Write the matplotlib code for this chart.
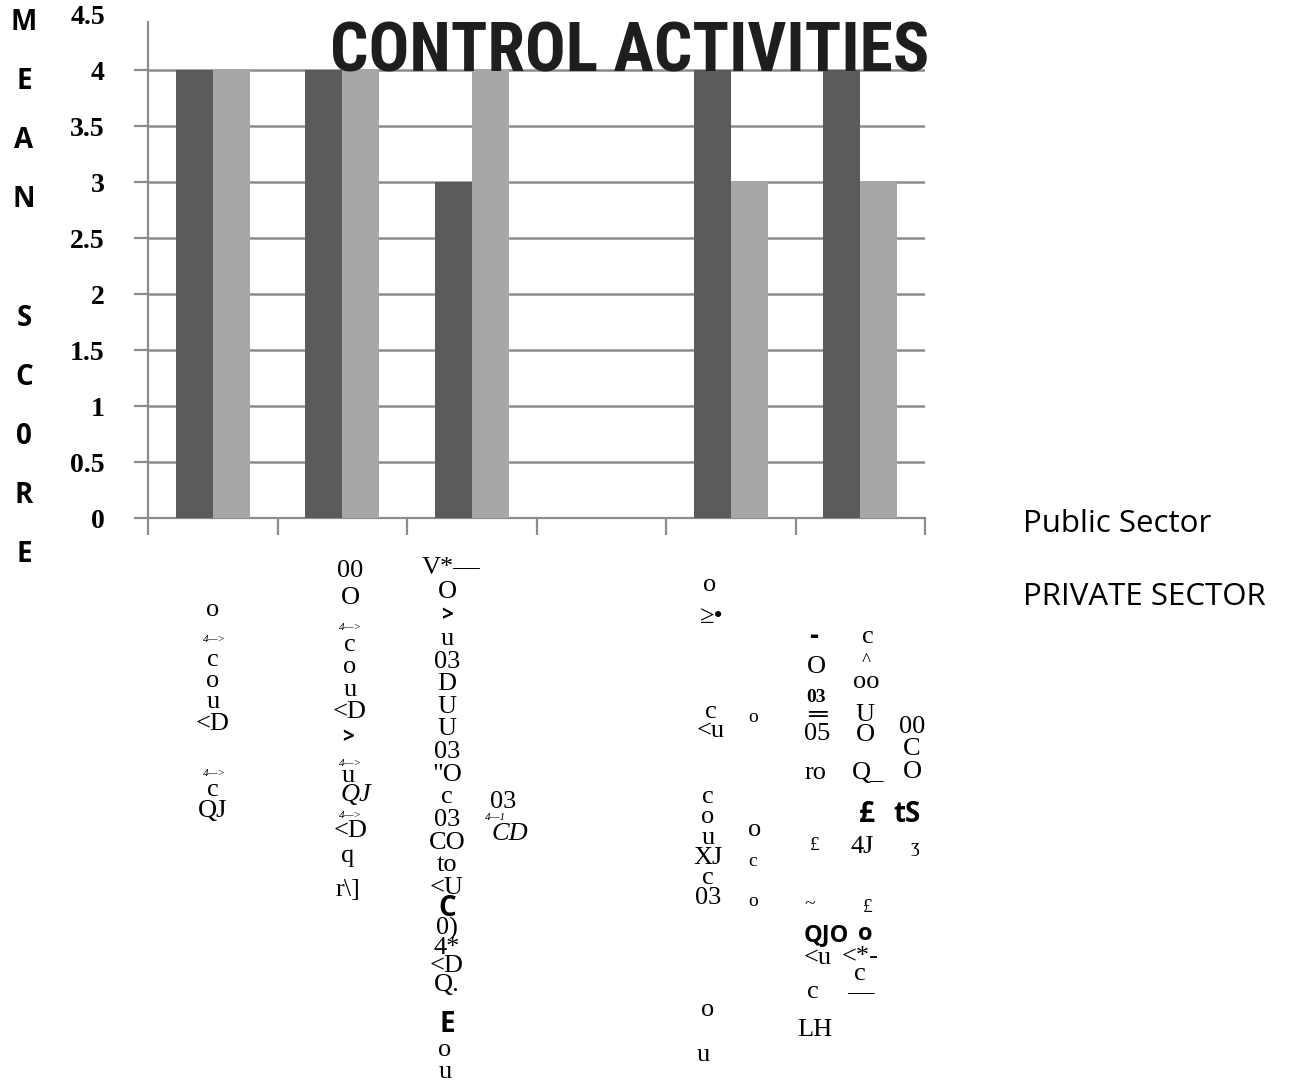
import numpy as np
import matplotlib
matplotlib.use("Agg")
import matplotlib.pyplot as plt
from matplotlib import font_manager as fm

W, H, DPI = 1298, 1089, 100

# ---- data -------------------------------------------------------------
public_sector = [4, 4, 3, 0, 4, 4]
private_sector = [4, 4, 4, 0, 3, 3]
y_ticks = [0, 0.5, 1, 1.5, 2, 2.5, 3, 3.5, 4, 4.5]
y_tick_labels = ["0", "0.5", "1", "1.5", "2", "2.5", "3", "3.5", "4", "4.5"]
series_names = ["Public Sector", "PRIVATE SECTOR"]
title_text = "CONTROL ACTIVITIES"
y_label_letters = ["M", "E", "A", "N", "", "S", "C", "0", "R", "E"]

# category captions under the axis, as they came out of the scanned page
# single pieces: (x px, centre y px, text, style)
caption_pieces = [
    (213, 610, "o", "S"), (214, 640, "4—>", "s"), (214, 773, "4—>", "s"),
    (350, 628, "4—>", "s"), (348, 738, ">", "b2"), (350, 763, "4—>", "s"),
    (348, 776, "u", "S"), (356, 795, "QJ", "I"), (350, 815, "4—>", "s"),
    (351, 831, "<D", "S"),
    (451, 568, "V*—", "S"), (447, 592, "O", "S"), (447, 616, ">", "b2"),
    (447, 909, "C", "B"), (447, 1024, "E", "B"),
    (503, 802, "03", "S"), (496, 818, "4—1", "s"), (510, 834, "CD", "I"),
    (710, 585, "o", "S"), (712, 617, "≥•", "S"),
    (708, 1010, "o", "S"), (703, 1055, "u", "S"),
    (753, 717, "o", "m"), (755, 830, "o", "S"), (753, 862, "c", "m"),
    (753, 902, "o", "m"),
    (814, 637, "-", "B"), (816, 667, "O", "S"), (816, 698, "03", "b"),
    (817, 716, "═", "S"), (817, 734, "05", "S"), (816, 773, "ro", "S"),
    (815, 845, "£", "m"), (810, 905, "~", "m"), (826, 935, "QJO", "B2"),
    (818, 958, "<u", "S"), (813, 992, "c", "S"), (815, 1030, "LH", "S"),
    (868, 637, "c", "S"), (866, 661, "^", "m"), (866, 682, "oo", "S"),
    (865, 715, "U", "S"), (865, 735, "O", "S"), (868, 773, "Q_", "S"),
    (867, 815, "£", "B"), (862, 847, "4J", "S"), (868, 908, "£", "m"),
    (865, 934, "o", "B2"), (860, 956, "<*-", "S"), (860, 974, "c", "S"),
    (860, 992, "—", "S"),
    (912, 727, "00", "S"), (912, 749, "C", "S"), (912, 772, "O", "S"),
    (907, 815, "tS", "B"), (915, 848, "ʒ", "m"),
]
# stacked runs: (x px, first baseline px, line pitch px, lines)
caption_stacks = [
    (213, 666, 21.0, ["c", "o", "u", "<D"]),
    (213, 796, 21.0, ["c", "QJ"]),
    (350, 577, 29.0, ["00", "O"]),
    (350, 651, 22.5, ["c", "o", "u", "<D"]),
    (348, 862, 37.0, ["q", "r\\]"]),
    (447, 645, 22.8, ["u", "03", "D", "U", "U", "03", "\"O", "c", "03",
                      "CO", "to", "<U"]),
    (447, 934, 17.7, ["0)", "4*", "<D", "Q."]),
    (445, 1056, 22.0, ["o", "u"]),
    (711, 718, 18.0, ["c", "<u"]),
    (708, 803, 19.8, ["c", "o", "u", "XJ", "c", "03"]),
]

# ---- styling ----------------------------------------------------------
dark_bar = "#5b5b5b"
light_bar = "#a7a7a7"
grid_col = "#8c8c8c"
serif = ["Liberation Serif", "DejaVu Serif"]
sans = ["Open Sans", "DejaVu Sans"]

styles = {
    "S": dict(family=serif, size=19),
    "m": dict(family=serif, size=14),
    "b": dict(family=serif, size=14, weight="bold"),
    "I": dict(family=serif, size=19, style="italic"),
    "s": dict(family=serif, size=8, style="italic"),
    "B": dict(family=sans, size=20, weight="bold"),
    "B2": dict(family=sans, size=17, weight="bold"),
    "b2": dict(family=sans, size=15, weight="bold"),
}


def first_installed(names):
    for name in names:
        try:
            fm.findfont(fm.FontProperties(family=name, weight="bold"),
                        fallback_to_default=False)
            return name
        except ValueError:
            continue
    return "DejaVu Sans"


fig = plt.figure(figsize=(W / DPI, H / DPI), dpi=DPI)
fig.patch.set_facecolor("white")
renderer = fig.canvas.get_renderer()


def fx(px):
    return px / W


def fy(py):
    return 1 - py / H


# plot area
ax_left, ax_right, ax_bottom, ax_top = 148, 925, 518, 14
ax = fig.add_axes([fx(ax_left), fy(ax_bottom),
                   fx(ax_right - ax_left), (ax_bottom - ax_top) / H])
ax.set_xlim(-0.5, 5.5)
ax.set_ylim(0, 4.5)

x = np.arange(len(public_sector))
bw = 0.286
ax.bar(x - bw / 2, public_sector, bw, color=dark_bar, zorder=3,
       label=series_names[0])
ax.bar(x + bw / 2, private_sector, bw, color=light_bar, zorder=3,
       label=series_names[1])

# y axis: gridlines at every half step, none at the top value
ax.set_yticks(y_ticks)
ax.set_yticklabels(y_tick_labels, family=serif, weight="bold", fontsize=20)
ax.yaxis.grid(True, color=grid_col, lw=1.8, zorder=1)
ax.get_ygridlines()[-1].set_visible(False)
ax.yaxis.get_major_ticks()[-1].tick1line.set_visible(False)
ax.tick_params(axis="y", length=10, width=1.6, color=grid_col, pad=21,
               labelcolor="black")

# x axis: boundary tick marks between categories, no labels
ax.set_xticks([])
ax.set_xticks(np.arange(-0.5, 6.0, 1.0), minor=True)
ax.tick_params(axis="x", which="minor", length=12, width=1.6,
               color=grid_col, labelbottom=False)

for side in ("top", "right"):
    ax.spines[side].set_visible(False)
for side in ("left", "bottom"):
    ax.spines[side].set_color(grid_col)
    ax.spines[side].set_linewidth(1.6)
ax.spines["left"].set_bounds(0, 4.43)

# title: narrowest bold face available, sized to span the plot's top band
title_family = first_installed(["Liberation Sans Narrow", "Roboto Condensed",
                                "Open Sans Condensed", "Roboto",
                                "Liberation Sans"])
title_left, title_right, title_base = 330, 928, 72
probe = fm.FontProperties(family=title_family, weight="bold", size=46)
tw, _, _ = renderer.get_text_width_height_descent(title_text, probe, False)
title_size = 46 * (title_right - title_left) / tw
fig.text(fx(title_left), fy(title_base), title_text, ha="left",
         va="baseline", family=title_family, weight="bold",
         fontsize=title_size, color="#1e1e1e", zorder=10)

# vertical axis caption, one letter per line
for py, ch in zip(np.linspace(22, 555, len(y_label_letters)), y_label_letters):
    fig.text(fx(24), fy(py), ch, ha="center", va="center",
             family=sans, weight="bold", fontsize=20)

# series names to the right of the chart
fig.text(fx(1023), fy(524), series_names[0], ha="left", va="center",
         family=sans, fontsize=22.5)
fig.text(fx(1023), fy(597), series_names[1], ha="left", va="center",
         family=sans, fontsize=22.5)

# category captions
for px, py, txt, st in caption_pieces:
    fig.text(fx(px), fy(py), txt, ha="center", va="center", **styles[st])

# line pitch and top-to-baseline offset of the caption serif, in pixels
one = fig.text(0, 0.5, "lp", va="baseline", linespacing=1.0, **styles["S"])
two = fig.text(0, 0.5, "lp\nlp", va="baseline", linespacing=1.0,
               **styles["S"])
e1 = one.get_window_extent(renderer)
e2 = two.get_window_extent(renderer)
unit_pitch = e2.height - e1.height
top_to_base = e1.y1 - 0.5 * H
one.remove()
two.remove()

for px, b0, pitch, lines in caption_stacks:
    fig.text(fx(px), fy(b0 - top_to_base), "\n".join(lines), ha="center",
             va="top", linespacing=pitch / unit_pitch, **styles["S"])

fig.savefig("out.png", dpi=DPI, facecolor="white")
